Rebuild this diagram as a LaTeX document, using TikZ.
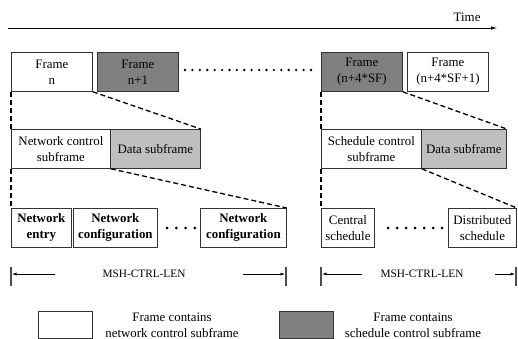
\documentclass[tikz,border=0pt]{standalone}
\usepackage{fontspec}
\setmainfont{Liberation Serif}
\usetikzlibrary{arrows.meta}
\begin{document}
\begin{tikzpicture}[x=1pt,y=-1pt,
  txt/.style={font=\fontsize{12.9}{16}\selectfont},
  box/.style={txt, draw=black!80, line width=0.8pt, inner sep=0pt, align=center, anchor=north west},
  bbox/.style={box, font=\fontsize{12.9}{16}\selectfont\bfseries},
  dark/.style={box, fill=black!50},
  light/.style={box, fill=black!25},
  zoomline/.style={dash pattern=on 5pt off 3pt, line width=1.3pt},
  span/.style={-{Latex[length=4.5pt,width=3pt]}, line width=0.6pt},
  bar/.style={line width=1.1pt, black!70},
  small/.style={font=\fontsize{11.3}{14}\selectfont}
]
\useasboundingbox (0,0) rectangle (518,339);

% time axis
\coordinate (t0) at (8,28);
\coordinate (t1) at (497,28);
\draw[-{Latex[length=6pt,width=3.5pt]}, line width=0.7pt] (t0) -- (t1);
\node[txt, anchor=east] (time) at (484,17) {Time};

% frame row
\node[box, minimum width=81pt, minimum height=39pt] (fn) at (11,52) {Frame\\n};
\node[dark, minimum width=81pt, minimum height=39pt] (fn1) at (97,52) {Frame\\n+1};
\node[dark, minimum width=81pt, minimum height=39pt] (fs) at (321,52) {Frame\\(n+4*SF)};
\node[box, minimum width=81pt, minimum height=39pt] (fs1) at (407,52) {Frame\\(n+4*SF+1)};
\foreach \i in {0,...,17} \fill (185+\i*7.41,70) circle (1.3pt);

% subframe row
\node[box, minimum width=99pt, minimum height=39pt] (ncs) at (11,129) {Network control\\subframe};
\node[light, minimum width=90pt, minimum height=39pt] (ds1) at (110,129) {Data subframe};
\node[box, minimum width=100pt, minimum height=39pt] (scs) at (321,129) {Schedule control\\subframe};
\node[light, minimum width=85pt, minimum height=39pt] (ds2) at (421,129) {Data subframe};

% expansion of frames into subframes
\draw[zoomline] (fn.south west) -- (ncs.north west);
\draw[zoomline] (fn.south east) -- (ds1.north east);
\draw[zoomline] (fs.south west) -- (scs.north west);
\draw[zoomline] (fs.south east) -- (ds2.north east);

% control subframe contents
\node[bbox, minimum width=60pt, minimum height=39pt] (ne) at (11,208) {Network\\entry};
\node[bbox, minimum width=84pt, minimum height=39pt] (nc1) at (73,208) {Network\\configuration};
\node[bbox, minimum width=86pt, minimum height=39pt] (nc2) at (200,208) {Network\\configuration};
\foreach \i in {0,...,3} \fill (167+\i*9.3,228) circle (1.5pt);
\node[box, minimum width=53pt, minimum height=39pt] (cs) at (321,208) {Central\\schedule};
\node[box, minimum width=68pt, minimum height=39pt] (dsc) at (448,208) {Distributed\\schedule};
\foreach \i in {0,...,6} \fill (388+\i*9,228) circle (1.5pt);

\draw[zoomline] (ncs.south west) -- (ne.north west);
\draw[zoomline] (ncs.south east) -- (nc2.north east);
\draw[zoomline] (scs.south west) -- (cs.north west);
\draw[zoomline] (scs.south east) -- (dsc.north east);

% MSH-CTRL-LEN spans
\draw[bar] (11,267) -- (11,286);
\draw[bar] (286,267) -- (286,286);
\node[small] (m1) at (144,274) {MSH-CTRL-LEN};
\coordinate (m1a) at (55,274);
\coordinate (m1b) at (12,274);
\coordinate (m1c) at (243,274);
\coordinate (m1d) at (285,274);
\draw[span] (m1a) -- (m1b);
\draw[span] (m1c) -- (m1d);

\draw[bar] (321,267) -- (321,286);
\draw[bar] (516,267) -- (516,286);
\node[small] (m2) at (422,274) {MSH-CTRL-LEN};
\coordinate (m2a) at (362,274);
\coordinate (m2b) at (322,274);
\coordinate (m2c) at (495,274);
\coordinate (m2d) at (515,274);
\draw[span] (m2a) -- (m2b);
\draw[span] (m2c) -- (m2d);

% legend
\node[box, minimum width=54pt, minimum height=27pt] (lw) at (38,311) {};
\node[txt, align=center] (lwt) at (172,325) {Frame contains\\network control subframe};
\node[dark, minimum width=54pt, minimum height=27pt] (ld) at (279,311) {};
\node[txt, align=center] (ldt) at (413,325) {Frame contains\\schedule control subframe};
\end{tikzpicture}
\end{document}
